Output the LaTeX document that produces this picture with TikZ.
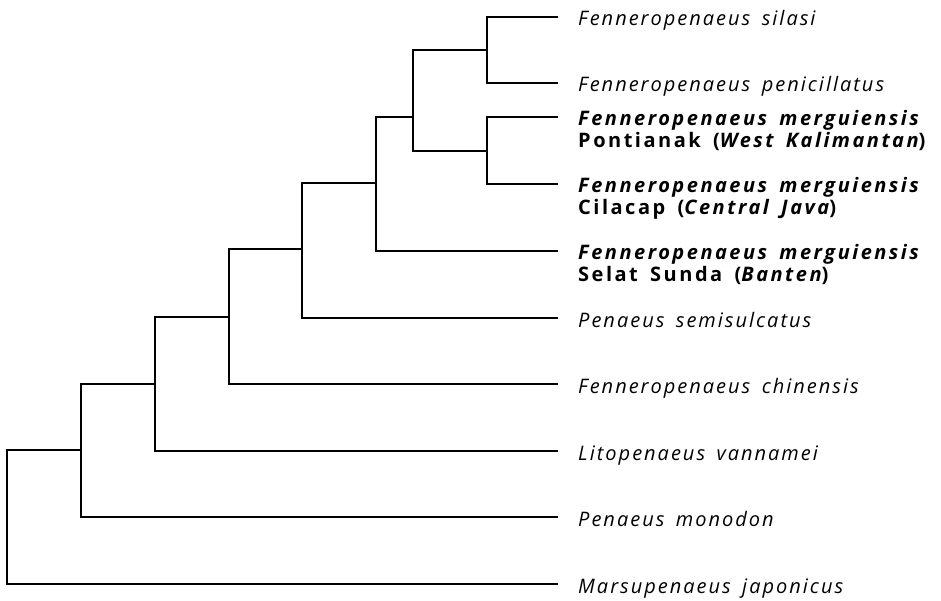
\documentclass[tikz,border=0pt]{standalone}
\usepackage{fontspec}
\setmainfont[LetterSpace=10,WordSpace=1.6,
  BoldFeatures={LetterSpace=12.5},BoldItalicFeatures={LetterSpace=12.5}]{Open Sans}
\usepackage{tikz}

\begin{document}
\begin{tikzpicture}[x=1pt,y=-1pt,
  branch/.style={black, line width=2.2pt},
  taxon/.style={anchor=base west, inner sep=0pt, align=left,
    font=\fontsize{20}{22}\selectfont\itshape}]
  \useasboundingbox (0,0) rectangle (941,601);

  % leaf tips
  \coordinate (sil) at (558,17);
  \coordinate (pen) at (558,83);
  \coordinate (pon) at (558,117);
  \coordinate (cil) at (558,184);
  \coordinate (sun) at (558,251);
  \coordinate (sem) at (558,318);
  \coordinate (chi) at (558,384);
  \coordinate (van) at (558,451);
  \coordinate (mon) at (558,517);
  \coordinate (jap) at (558,584);

  % inner nodes
  \coordinate (nA) at (487,50);
  \coordinate (nB) at (487,151);
  \coordinate (nC) at (413,117);
  \coordinate (nD) at (376,183);
  \coordinate (nE) at (302,249);
  \coordinate (nF) at (229,317);
  \coordinate (nG) at (155,384);
  \coordinate (nH) at (81,450);
  \coordinate (root) at (7,517);

  \draw[branch] (nA) |- (sil);
  \draw[branch] (nA) |- (pen);
  \draw[branch] (nB) |- (pon);
  \draw[branch] (nB) |- (cil);
  \draw[branch] (nC) |- (nA);
  \draw[branch] (nC) |- (nB);
  \draw[branch] (nD) |- (nC);
  \draw[branch] (nD) |- (sun);
  \draw[branch] (nE) |- (nD);
  \draw[branch] (nE) |- (sem);
  \draw[branch] (nF) |- (nE);
  \draw[branch] (nF) |- (chi);
  \draw[branch] (nG) |- (nF);
  \draw[branch] (nG) |- (van);
  \draw[branch] (nH) |- (nG);
  \draw[branch] (nH) |- (mon);
  \draw[branch] (root) |- (nH);
  \draw[branch] (root) |- (jap);

  % labels (base = last line)
  \node[taxon] (tsil) at (578,26) {Fenneropenaeus silasi};
  \node[taxon] (tpen) at (578,92) {Fenneropenaeus penicillatus};
  \node[taxon] (tpon) at (578,148) {\textbf{Fenneropenaeus merguiensis}\\
    \textbf{\upshape Pontianak (\itshape West Kalimantan\upshape)}};
  \node[taxon] (tcil) at (578,215) {\textbf{Fenneropenaeus merguiensis}\\
    \textbf{\upshape Cilacap (\itshape Central Java\upshape)}};
  \node[taxon] (tsun) at (578,282) {\textbf{Fenneropenaeus merguiensis}\\
    \textbf{\upshape Selat Sunda (\itshape Banten\upshape)}};
  \node[taxon] (tsem) at (578,327) {Penaeus semisulcatus};
  \node[taxon] (tchi) at (578,393) {Fenneropenaeus chinensis};
  \node[taxon] (tvan) at (578,460) {Litopenaeus vannamei};
  \node[taxon] (tmon) at (578,526) {Penaeus monodon};
  \node[taxon] (tjap) at (578,593) {Marsupenaeus japonicus};
\end{tikzpicture}
\end{document}
